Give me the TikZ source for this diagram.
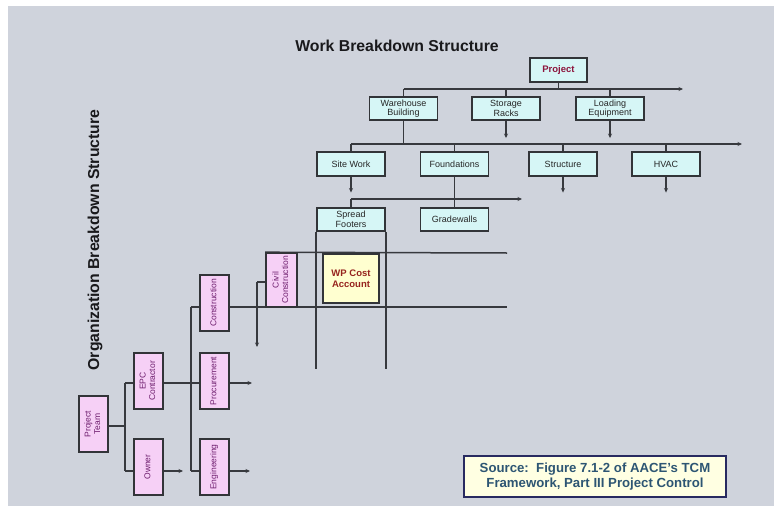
\documentclass[tikz,border=0pt]{standalone}
\usepackage{fontspec}
\setmainfont{Liberation Sans}
\usepackage{graphicx}
\usetikzlibrary{arrows.meta}

\definecolor{bg}{RGB}{207,211,220}
\definecolor{boxline}{RGB}{50,52,56}
\definecolor{connline}{RGB}{55,57,62}
\definecolor{wbsfill}{RGB}{214,246,246}
\definecolor{obsfill}{RGB}{246,208,246}
\definecolor{wpfill}{RGB}{255,255,208}
\definecolor{srcfill}{RGB}{255,255,226}
\definecolor{srctext}{RGB}{45,85,115}
\definecolor{projtext}{RGB}{140,20,60}
\definecolor{obstext}{RGB}{110,30,110}
\definecolor{wptext}{RGB}{150,35,30}
\definecolor{titletext}{RGB}{25,25,28}

% rotated two-line label for the organisation boxes
\newcommand{\vlabel}[1]{\rotatebox{90}{\begin{tabular}{@{}c@{}}#1\end{tabular}}}

\begin{document}
\begin{tikzpicture}[x=1pt,y=-1pt,
  boxbase/.style={draw=boxline,line width=1.6pt,inner sep=0pt,align=center},
  wbsbox/.style={boxbase,fill=wbsfill,minimum width=68,minimum height=23.5,
    font=\fontsize{9}{9.5}\selectfont,text=black!85},
  obsbox/.style={boxbase,fill=obsfill,minimum width=29,minimum height=56,
    font=\fontsize{8.5}{9.5}\selectfont,text=obstext},
  wpbox/.style={boxbase,fill=wpfill,minimum width=56,minimum height=49,
    font=\fontsize{9.5}{11}\selectfont\bfseries,text=wptext},
  srcbox/.style={boxbase,draw=boxline!80!blue,fill=srcfill,minimum width=262,minimum height=41,
    font=\fontsize{13.2}{15}\selectfont\bfseries,text=srctext},
  title/.style={font=\fontsize{15.8}{18}\selectfont\bfseries,text=titletext},
  conn/.style={draw=connline,line width=1.5pt},
  tip/.style={conn,-{Stealth[length=4.5pt,width=4pt]}}
]
\useasboundingbox (0,0) rectangle (774,506);
\fill[white] (0,0) rectangle (774,506);
\fill[bg] (8,6) rectangle (774,506);

% titles
\node[title] (wbstitle) at (397,46) {Work Breakdown Structure};
\node[title,rotate=90] (obstitle) at (95,240) {Organization Breakdown Structure};

% ---------- work breakdown structure ----------
\node[wbsbox,minimum width=57,minimum height=24,text=projtext,font=\fontsize{9.5}{10}\selectfont\bfseries] (proj) at (558.5,70) {Project};
\node[wbsbox] (wh) at (403.5,108.5) {Warehouse\\Building};
\node[wbsbox] (st) at (506,108.5) {Storage\\Racks};
\node[wbsbox] (le) at (610,108.5) {Loading\\Equipment};
\node[wbsbox] (sw) at (351,164) {Site Work};
\node[wbsbox] (fo) at (454.5,164) {Foundations};
\node[wbsbox] (su) at (563,164) {Structure};
\node[wbsbox] (hv) at (666,164) {HVAC};
\node[wbsbox] (sf) at (351,219.5) {Spread\\Footers};
\node[wbsbox] (gw) at (454.5,219.5) {Gradewalls};

\coordinate (busA) at (403.5,89);
\coordinate (busAend) at (683,89);
\coordinate (busB) at (351,144);
\coordinate (busBend) at (742,144);
\coordinate (busC) at (351,199);
\coordinate (busCend) at (522,199);

\draw[conn] (proj.south) -- (proj.south |- busA);
\draw[tip] (busA) -- (busAend);
\draw[conn] (busA) -- (wh.north);
\draw[conn] (st.north |- busA) -- (st.north);
\draw[conn] (le.north |- busA) -- (le.north);
\draw[tip] (st.south) -- ++(0,17);
\draw[tip] (le.south) -- ++(0,17);

\draw[conn] (wh.south) -- (wh.south |- busB);
\draw[tip] (busB) -- (busBend);
\draw[conn] (busB) -- (sw.north);
\draw[conn] (fo.north |- busB) -- (fo.north);
\draw[conn] (su.north |- busB) -- (su.north);
\draw[conn] (hv.north |- busB) -- (hv.north);
\draw[tip] (sw.south) -- ++(0,16);
\draw[tip] (su.south) -- ++(0,16);
\draw[tip] (hv.south) -- ++(0,16);

\draw[tip] (busC) -- (busCend);
\draw[conn] (busC) -- (sf.north);
\draw[conn] (fo.south) -- (gw.north);

% ---------- organisation breakdown structure ----------
\node[obsbox] (pt)  at (93.5,424) {\vlabel{Project\\Team}};
\node[obsbox] (epc) at (148.5,381) {\vlabel{EPC\\Contractor}};
\node[obsbox] (ow)  at (148.5,467) {\vlabel{Owner}};
\node[obsbox] (con) at (214.5,303) {\vlabel{Construction}};
\node[obsbox] (pro) at (214.5,381) {\vlabel{Procurement}};
\node[obsbox] (eng) at (214.5,467) {\vlabel{Engineering}};
\node[obsbox,minimum width=31,minimum height=54] (civ) at (281.5,280) {\vlabel{Civil\\Construction}};

\coordinate (obsA) at (125,426);
\coordinate (obsAtop) at (125,383);
\coordinate (obsAbot) at (125,471);
\coordinate (obsB) at (191,307);
\coordinate (obsBmid) at (191,383);
\coordinate (obsBbot) at (191,471);
\coordinate (obsC) at (257,282);
\coordinate (obsCend) at (257,347);

% cost account grid: organisation rows and work package columns
\coordinate (rowTop) at (507,253);
\coordinate (rowBot) at (507,307);
\draw[conn] (sf.south west) -- ++(0,137);
\draw[conn] (sf.south east) -- ++(0,137);
\draw[conn] (civ.north west) -- (rowTop);
\draw[conn] (con.east |- obsB) -- (rowBot);

\draw[conn] (pt.east |- obsA) -- (obsA);
\draw[conn] (obsAtop) -- (obsAbot);
\draw[conn] (obsAtop) -- (epc.west |- obsAtop);
\draw[conn] (obsAbot) -- (ow.west |- obsAbot);
\draw[tip] (ow.east |- obsAbot) -- (183,471);

\draw[conn] (epc.east |- obsBmid) -- (pro.west |- obsBmid);
\draw[conn] (obsB) -- (obsBbot);
\draw[conn] (obsB) -- (con.west |- obsB);
\draw[conn] (obsBbot) -- (eng.west |- obsBbot);
\draw[tip] (pro.east |- obsBmid) -- (252,383);
\draw[tip] (eng.east |- obsBbot) -- (250,471);

\draw[tip] (obsC) -- (obsCend);
\draw[conn] (obsC) -- (civ.west |- obsC);

% redraw boxes that sit on the grid lines
\node[obsbox,minimum width=31,minimum height=54] at (civ) {\vlabel{Civil\\Construction}};
\node[wpbox] (wp) at (351,278.5) {WP Cost\\Account};

% source note
\node[srcbox] (src) at (595,476.5) {Source:\ \ Figure 7.1-2 of AACE's TCM\\Framework, Part III Project Control};
\end{tikzpicture}
\end{document}
